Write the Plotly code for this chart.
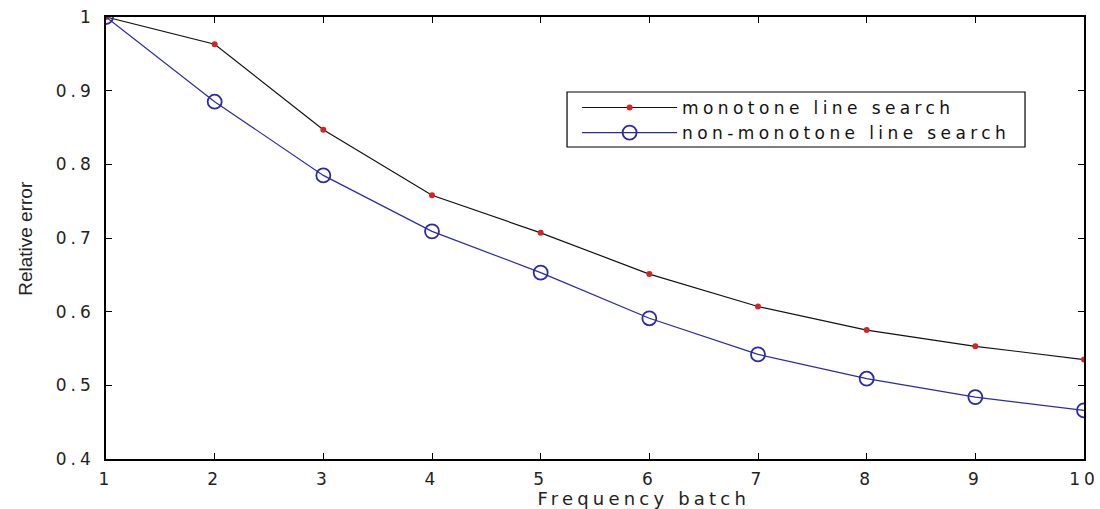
import plotly.graph_objects as go

batches = [1, 2, 3, 4, 5, 6, 7, 8, 9, 10]
monotone = [1.0, 0.963, 0.847, 0.758, 0.707, 0.651, 0.607, 0.575, 0.553, 0.535]
non_monotone = [1.0, 0.885, 0.785, 0.709, 0.653, 0.591, 0.542, 0.509, 0.484, 0.466]
y_ticks = [0.4, 0.5, 0.6, 0.7, 0.8, 0.9, 1.0]
x_label = "Frequency batch"
y_label = "Relative error"

tick_font = dict(family="DejaVu Sans", size=17, color="#222222")

fig = go.Figure()
fig.add_trace(go.Scatter(
    x=batches, y=monotone, mode="lines+markers", name="monotone line search",
    line=dict(color="#111111", width=1.2),
    marker=dict(symbol="circle", size=6, color="#d42525"),
))
fig.add_trace(go.Scatter(
    x=batches, y=non_monotone, mode="lines+markers", name="non-monotone line search",
    line=dict(color="#2a2aa8", width=1.2),
    marker=dict(symbol="circle-open", size=14, color="#2a2aa8", line=dict(width=1.8)),
))

axis_common = dict(
    showline=True, linecolor="black", linewidth=1.6, mirror="ticks",
    ticks="inside", ticklen=6, tickwidth=1.3, tickcolor="black",
    showgrid=False, zeroline=False, tickfont=tick_font, automargin=False,
)
fig.update_xaxes(range=[1, 10], tickvals=batches, ticklabelstandoff=4, **axis_common)
fig.update_yaxes(range=[0.4, 1.0], tickvals=y_ticks, ticklabelstandoff=6, **axis_common)

fig.update_layout(
    width=1100, height=509,
    margin=dict(l=106, r=16, t=17, b=50),
    plot_bgcolor="white", paper_bgcolor="white",
    showlegend=True,
    legend=dict(
        x=0.4817, y=0.835, xanchor="left", yanchor="top",
        bgcolor="rgba(0,0,0,0)", borderwidth=0,
        font=dict(family="DejaVu Sans", size=17, color="#111111"),
        itemwidth=95, tracegroupgap=0,
    ),
    shapes=[
        dict(type="rect", xref="paper", yref="paper",
             x0=0.4714, x1=0.9397, y0=0.7059, y1=0.8303,
             line=dict(color="black", width=1.2), fillcolor="white", layer="below"),
    ],
    annotations=[
        dict(text=x_label, xref="paper", yref="paper", x=0.55, y=-0.06,
             xanchor="center", yanchor="top", showarrow=False,
             font=dict(family="DejaVu Sans", size=18, color="#222222")),
        dict(text=y_label, xref="paper", yref="paper", x=-0.083, y=0.5,
             xanchor="center", yanchor="middle", textangle=-90, showarrow=False,
             font=dict(family="Liberation Sans Narrow, Liberation Sans", size=19, color="#222222")),
    ],
)

post = """
var gd = document.getElementById('{plot_id}');
function spaceText() {
  gd.querySelectorAll('.xtick text, .ytick text').forEach(function(t){ t.style.letterSpacing = '4px'; });
  gd.querySelectorAll('.legendtext').forEach(function(t){ t.style.letterSpacing = '4.4px'; });
  gd.querySelectorAll('.legend [clip-path]').forEach(function(e){ e.removeAttribute('clip-path'); });
  var ann = gd.querySelectorAll('.annotation-text');
  if (ann.length) { ann[0].style.letterSpacing = '4.2px'; }
}
spaceText();
gd.on('plotly_afterplot', spaceText);
"""

fig.write_html("out.html", post_script=post)
